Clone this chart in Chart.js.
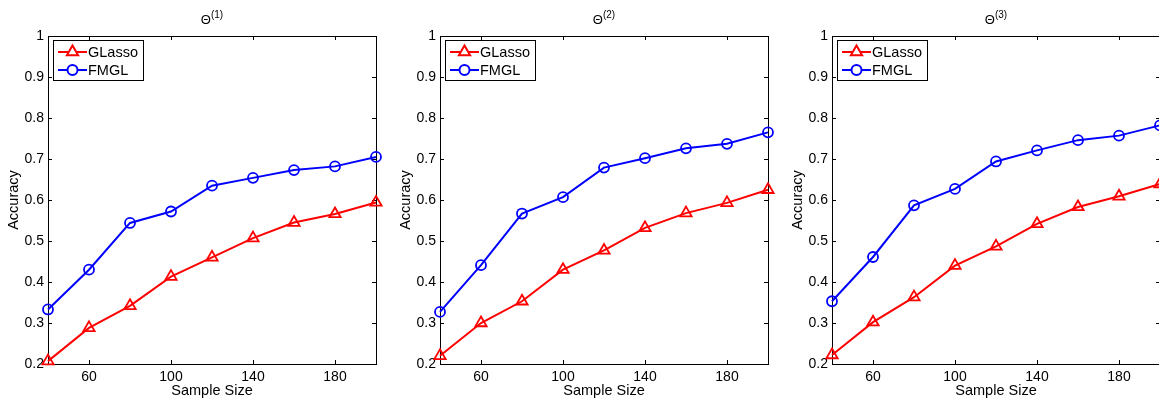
<!DOCTYPE html>
<html>
<head>
<meta charset="utf-8">
<script src="https://cdn.jsdelivr.net/npm/chart.js@4"></script>
<style>
body { margin: 0; width: 1159px; height: 400px; overflow: hidden; background: #fff; position: relative; }
canvas { position: absolute; top: 0; }
</style>
</head>
<body>
<canvas id="c1" width="392" height="400" style="left:0px"></canvas>
<canvas id="c2" width="392" height="400" style="left:392px"></canvas>
<canvas id="c3" width="392" height="400" style="left:784px"></canvas>
<script>
// data
var sampleSizes = [40, 60, 80, 100, 120, 140, 160, 180, 200];
var xTicks = [60, 100, 140, 180];
var panelTitles = ['(1)', '(2)', '(3)'];

var glasso1 = [0.207, 0.288, 0.342, 0.413, 0.460, 0.507, 0.545, 0.566, 0.594];
var fmgl1   = [0.333, 0.430, 0.544, 0.572, 0.635, 0.654, 0.673, 0.682, 0.705];

var glasso2 = [0.220, 0.300, 0.353, 0.430, 0.477, 0.532, 0.568, 0.593, 0.625];
var fmgl2   = [0.327, 0.441, 0.567, 0.607, 0.679, 0.702, 0.726, 0.737, 0.765];

var glasso3 = [0.222, 0.302, 0.363, 0.440, 0.487, 0.542, 0.583, 0.609, 0.639];
var fmgl3   = [0.353, 0.461, 0.587, 0.627, 0.694, 0.721, 0.746, 0.757, 0.782];

var FONT = "'Liberation Sans', Arial, sans-serif";

function pts(ys) {
    return sampleSizes.map(function (x, i) { return { x: x, y: ys[i] }; });
}

// box + inward tick marks like matlab
var framePlugin = {
    id: 'frame',
    beforeDatasetsDraw: function (chart) {
        var a = chart.chartArea, c = chart.ctx;
        var sx = chart.scales.x, sy = chart.scales.y;
        c.save();
        c.strokeStyle = '#000';
        c.lineWidth = 1;
        c.strokeRect(a.left + 0.5, a.top + 0.5, a.right - a.left, a.bottom - a.top);
        c.beginPath();
        sx.ticks.forEach(function (t) {
            var px = Math.round(sx.getPixelForValue(t.value)) + 0.5;
            c.moveTo(px, a.bottom); c.lineTo(px, a.bottom - 4);
            c.moveTo(px, a.top); c.lineTo(px, a.top + 4);
        });
        sy.ticks.forEach(function (t) {
            var py = Math.round(sy.getPixelForValue(t.value)) + 0.5;
            c.moveTo(a.left, py); c.lineTo(a.left + 4, py);
            c.moveTo(a.right, py); c.lineTo(a.right - 4, py);
        });
        c.stroke();
        c.restore();
    },
    afterDraw: function (chart) {
        var a = chart.chartArea, c = chart.ctx;
        var sub = chart.options.plugins.frame.sub;
        // title  Θ^(n)
        c.save();
        c.fillStyle = '#000';
        c.textBaseline = 'alphabetic';
        c.font = '13px ' + FONT;
        var w1 = c.measureText('\u0398').width;
        c.font = '10px ' + FONT;
        var w2 = c.measureText(sub).width;
        var x0 = (a.left + a.right) / 2 - (w1 + w2) / 2;
        c.font = '13px ' + FONT;
        c.fillText('\u0398', x0, 24);
        c.font = '10px ' + FONT;
        c.fillText(sub, x0 + w1, 18);

        // legend box
        var lx = a.left + 5, ly = a.top + 4;
        c.fillStyle = '#fff';
        c.fillRect(lx, ly, 90, 40);
        c.strokeStyle = '#000';
        c.lineWidth = 1;
        c.strokeRect(lx + 0.5, ly + 0.5, 90, 40);
        c.font = '14.5px ' + FONT;
        c.textBaseline = 'middle';
        chart.data.datasets.forEach(function (ds, i) {
            var yy = ly + 12 + i * 18;
            c.strokeStyle = ds.borderColor;
            c.lineWidth = 2;
            c.beginPath();
            c.moveTo(lx + 5, yy); c.lineTo(lx + 34, yy);
            c.stroke();
            c.fillStyle = '#fff';
            Chart.helpers.drawPoint(c, {
                pointStyle: ds.pointStyle, radius: ds.pointRadius, rotation: 0, borderWidth: 1.5
            }, lx + 19.5, yy);
            c.fillStyle = '#000';
            c.fillText(ds.label, lx + 35, yy + 1);
        });
        c.restore();
    }
};

function makePanel(id, sub, glasso, fmgl) {
    var ctx = document.getElementById(id).getContext('2d');
    return new Chart(ctx, {
        type: 'line',
        data: {
            datasets: [{
                label: 'GLasso',
                data: pts(glasso),
                borderColor: '#ff0000',
                backgroundColor: 'rgba(0,0,0,0)',
                borderWidth: 2,
                pointStyle: 'triangle',
                pointRadius: 6.5,
                pointBorderWidth: 1.8,
                clip: false
            }, {
                label: 'FMGL',
                data: pts(fmgl),
                borderColor: '#0000ff',
                backgroundColor: 'rgba(0,0,0,0)',
                borderWidth: 2,
                pointStyle: 'circle',
                pointRadius: 5,
                pointBorderWidth: 1.8,
                clip: false
            }]
        },
        options: {
            responsive: false,
            animation: false,
            layout: { padding: { top: 36, right: 16, left: 0, bottom: 0 } },
            plugins: {
                legend: { display: false },
                tooltip: { enabled: false },
                frame: { sub: sub }
            },
            scales: {
                x: {
                    type: 'linear',
                    min: 40, max: 200,
                    afterBuildTicks: function (s) {
                        s.ticks = xTicks.map(function (v) { return { value: v }; });
                    },
                    afterFit: function (s) { s.height = 36; },
                    grid: { display: false, drawTicks: false, tickLength: 0 },
                    border: { display: false },
                    ticks: { color: '#000', padding: 5, font: { family: FONT, size: 14 } },
                    title: {
                        display: true, text: 'Sample Size', color: '#000',
                        padding: { top: 0, bottom: 0 },
                        font: { family: FONT, size: 14.5 }
                    }
                },
                y: {
                    min: 0.2, max: 1,
                    afterFit: function (s) { s.width = 48; },
                    grid: { display: false, drawTicks: false, tickLength: 0 },
                    border: { display: false },
                    ticks: {
                        stepSize: 0.1, color: '#000', padding: 4,
                        font: { family: FONT, size: 14 },
                        callback: function (v) { return Math.abs(v - 1) < 1e-9 ? '1' : v.toFixed(1); }
                    },
                    title: {
                        display: true, text: 'Accuracy', color: '#000',
                        padding: { top: 5, bottom: 0 },
                        font: { family: FONT, size: 14.5 }
                    }
                }
            }
        },
        plugins: [framePlugin]
    });
}

makePanel('c1', panelTitles[0], glasso1, fmgl1);
makePanel('c2', panelTitles[1], glasso2, fmgl2);
makePanel('c3', panelTitles[2], glasso3, fmgl3);
</script>
</body>
</html>
